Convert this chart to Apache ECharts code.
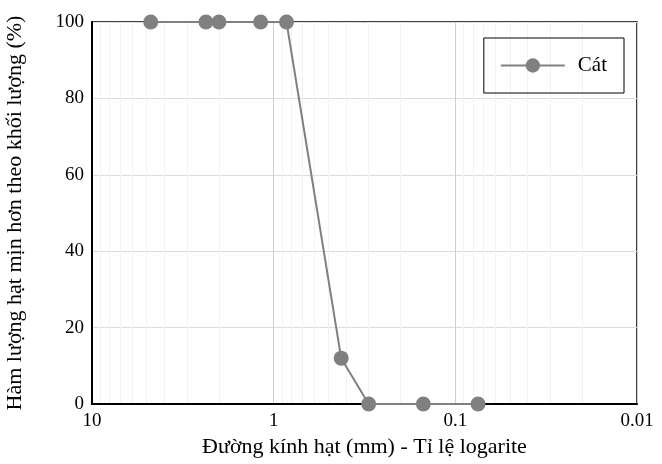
<!DOCTYPE html>
<html>
<head>
<meta charset="utf-8">
<script src="https://cdn.jsdelivr.net/npm/echarts@6/dist/echarts.min.js"></script>
<style>
  html, body { margin: 0; padding: 0; background: #fff; }
  #chart { width: 662px; height: 464px; }
</style>
</head>
<body>
<div id="chart"></div>
<script>
// grain size (mm) and percent passing
var grain_size = [4.75, 2.36, 2.0, 1.18, 0.85, 0.425, 0.3, 0.15, 0.075];
var percent_finer = [100, 100, 100, 100, 100, 12, 0, 0, 0];
var series_name = "Cát";
var x_ticks = [10, 1, 0.1, 0.01];

var points = [];
for (var i = 0; i < grain_size.length; i++) {
    points.push([grain_size[i], percent_finer[i]]);
}

var font = "Liberation Serif";
var option = {
    animation: false,
    textStyle: {fontFamily: font},
    grid: {
        left: 92, right: 25, top: 22, bottom: 60,
        outerBoundsMode: "none",
        show: true, borderColor: "#000", borderWidth: 1.5
    },
    legend: {
        data: [series_name],
        right: 38, top: 38,
        orient: "vertical",
        padding: [17, 17, 17, 16],
        borderColor: "#000", borderWidth: 1,
        itemWidth: 64, itemHeight: 18, itemGap: 10,
        textStyle: {fontFamily: font, fontSize: 21, color: "#000", padding: [0, 0, 0, 8]}
    },
    xAxis: {
        type: "log",
        logBase: 10,
        min: 0.01, max: 10,
        inverse: true,
        name: "Đường kính hạt (mm) - Tỉ lệ logarite",
        nameLocation: "middle",
        nameGap: 31,
        nameTextStyle: {fontFamily: font, fontSize: 22, color: "#000"},
        axisLine: {lineStyle: {color: "#000", width: 2}},
        axisTick: {show: false},
        axisLabel: {
            fontFamily: font, fontSize: 19, color: "#000", margin: 8,
            formatter: function (v) {
                for (var k = 0; k < x_ticks.length; k++) {
                    if (Math.abs(v - x_ticks[k]) / x_ticks[k] < 1e-6) return String(x_ticks[k]);
                }
                return "";
            }
        },
        splitLine: {show: true, lineStyle: {color: "#cfcfcf", width: 1}},
        minorTick: {show: false, splitNumber: 9},
        minorSplitLine: {show: true, lineStyle: {color: "#f2f2f2", width: 1}}
    },
    yAxis: {
        type: "value",
        min: 0, max: 100, interval: 20,
        name: "Hàm lượng hạt mịn hơn theo khối lượng (%)",
        nameLocation: "middle",
        nameGap: 66,
        nameTextStyle: {fontFamily: font, fontSize: 22, color: "#000"},
        axisLine: {show: true, lineStyle: {color: "#000", width: 2}},
        axisTick: {show: false},
        axisLabel: {fontFamily: font, fontSize: 19, color: "#000", margin: 8},
        splitLine: {show: true, lineStyle: {color: "#dcdcdc", width: 1}}
    },
    series: [{
        name: series_name,
        type: "line",
        data: points,
        symbol: "circle",
        symbolSize: 15,
        lineStyle: {color: "#808080", width: 2},
        itemStyle: {color: "#808080"},
        clip: false
    }]
};

var chart = echarts.init(document.getElementById("chart"));
chart.setOption(option);
</script>
</body>
</html>
